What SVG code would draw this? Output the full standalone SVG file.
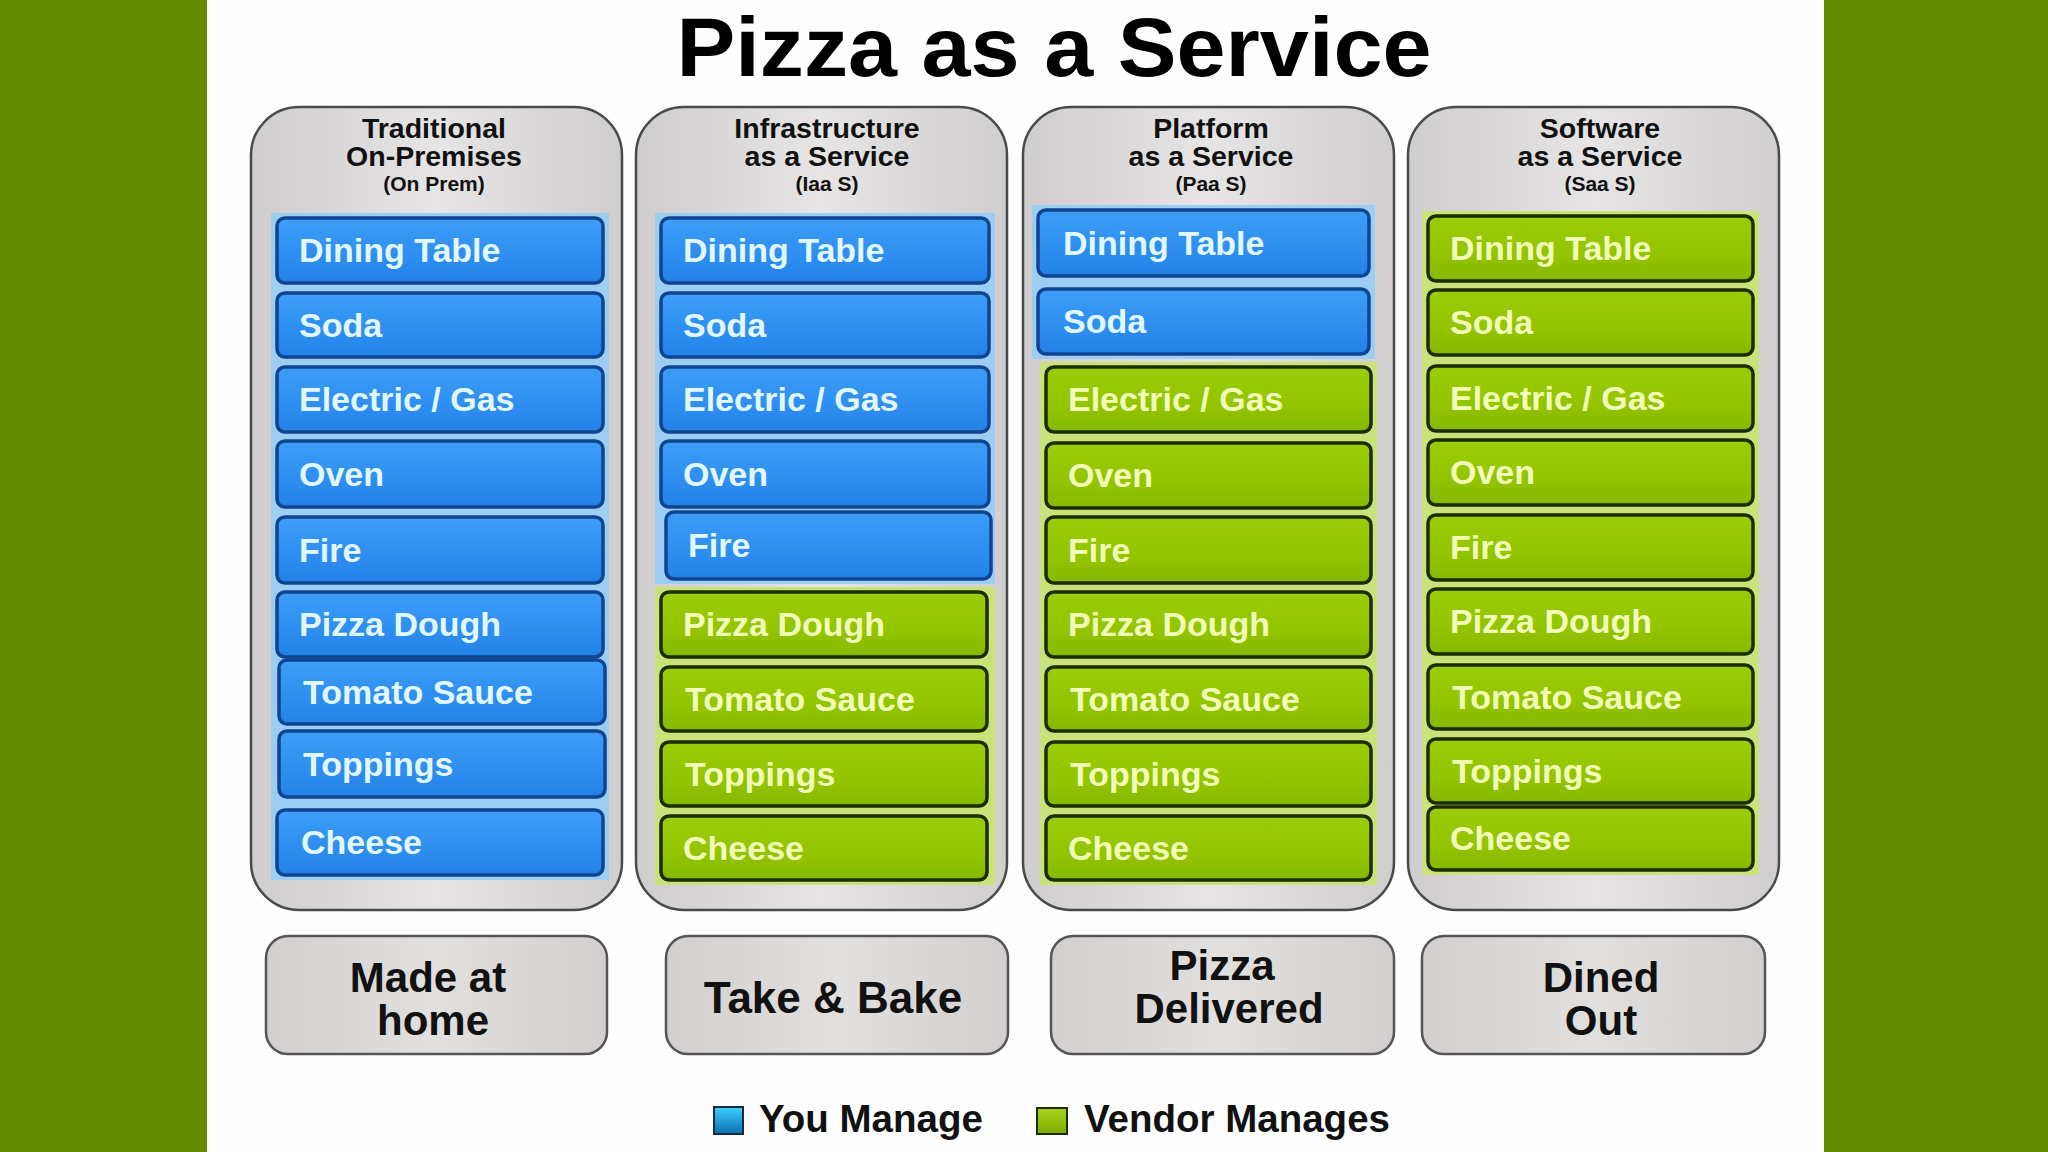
<svg xmlns="http://www.w3.org/2000/svg" width="2048" height="1152" viewBox="0 0 2048 1152">
<defs>
<linearGradient id="colFill" x1="0" y1="0" x2="1" y2="0">
<stop offset="0" stop-color="#cfcdcd"/><stop offset="0.5" stop-color="#e6e4e4"/><stop offset="1" stop-color="#d0cece"/>
</linearGradient>
<linearGradient id="labFill" x1="0" y1="0" x2="1" y2="0">
<stop offset="0" stop-color="#d3cfcf"/><stop offset="0.5" stop-color="#e2dfdf"/><stop offset="1" stop-color="#d3cfcf"/>
</linearGradient>
<linearGradient id="blueFill" x1="0" y1="0" x2="0" y2="1">
<stop offset="0" stop-color="#3d9df6"/><stop offset="0.6" stop-color="#2e8ef0"/><stop offset="1" stop-color="#2381e6"/>
</linearGradient>
<linearGradient id="greenFill" x1="0" y1="0" x2="0" y2="1">
<stop offset="0" stop-color="#9ccc08"/><stop offset="0.6" stop-color="#92c400"/><stop offset="1" stop-color="#86b800"/>
</linearGradient>
<linearGradient id="legBlue" x1="0" y1="0" x2="0" y2="1">
<stop offset="0" stop-color="#3fd0ff"/><stop offset="1" stop-color="#0a6fb0"/>
</linearGradient>
<linearGradient id="legGreen" x1="0" y1="0" x2="0" y2="1">
<stop offset="0" stop-color="#a6d21a"/><stop offset="1" stop-color="#7fae00"/>
</linearGradient>
</defs>
<style>
.side{fill:#658c00}
.col{fill:url(#colFill);stroke:#4a4a4a;stroke-width:2.5}
.hd{font-family:"Liberation Sans",Arial,sans-serif;font-weight:bold;font-size:28.5px;fill:#111;text-anchor:middle}
.hd3{font-family:"Liberation Sans",Arial,sans-serif;font-weight:bold;font-size:21px;fill:#111;text-anchor:middle}
.halo-b{fill:#9ccdf3}
.halo-g{fill:#c9e37a}
.bx-b{fill:url(#blueFill);stroke:#0f4490;stroke-width:3.5}
.bx-g{fill:url(#greenFill);stroke:#1b2d00;stroke-width:3.5}
.tx{font-family:"Liberation Sans",Arial,sans-serif;font-weight:bold;font-size:34px}
.tx-b{fill:#e2f8ff}
.tx-g{fill:#f2ffba}
.lab{fill:url(#labFill);stroke:#555;stroke-width:2.5}
.lt{font-family:"Liberation Sans",Arial,sans-serif;font-weight:bold;font-size:42px;fill:#111;text-anchor:middle}
.lt1{font-family:"Liberation Sans",Arial,sans-serif;font-weight:bold;font-size:44px;fill:#111;text-anchor:middle}
.leg{font-family:"Liberation Sans",Arial,sans-serif;font-weight:bold;font-size:38.5px;fill:#111}
</style>
<rect x="0" y="0" width="2048" height="1152" fill="#fefefe"/>
<rect class="side" x="0" y="0" width="207" height="1152"/>
<rect class="side" x="1824" y="0" width="224" height="1152"/>

<text id="title" x="1054" y="76" font-family="'Liberation Sans',Arial,sans-serif" font-weight="bold" font-size="84" fill="#000" text-anchor="middle" textLength="755" lengthAdjust="spacingAndGlyphs">Pizza as a Service</text>

<!-- Column 1 -->
<g id="col-onprem">
<rect class="col" x="251" y="107" width="371" height="803" rx="48"/>
<text class="hd" x="434" y="138">Traditional</text>
<text class="hd" x="434" y="166">On-Premises</text>
<text class="hd3" x="434" y="191">(On Prem)</text>
<g id="c1-rows">
<rect class="halo-b" x="271" y="213" width="338" height="667"/>
<rect class="bx-b" x="277" y="218" width="326" height="65" rx="8"/><text class="tx tx-b" x="299" y="262">Dining Table</text>
<rect class="bx-b" x="277" y="293" width="326" height="64" rx="8"/><text class="tx tx-b" x="299" y="337">Soda</text>
<rect class="bx-b" x="277" y="367" width="326" height="65" rx="8"/><text class="tx tx-b" x="299" y="411">Electric / Gas</text>
<rect class="bx-b" x="277" y="441" width="326" height="66" rx="8"/><text class="tx tx-b" x="299" y="486">Oven</text>
<rect class="bx-b" x="277" y="517" width="326" height="66" rx="8"/><text class="tx tx-b" x="299" y="562">Fire</text>
<rect class="bx-b" x="277" y="592" width="326" height="65" rx="8"/><text class="tx tx-b" x="299" y="636">Pizza Dough</text>
<rect class="bx-b" x="279" y="660" width="326" height="64" rx="8"/><text class="tx tx-b" x="303" y="704">Tomato Sauce</text>
<rect class="bx-b" x="279" y="731" width="326" height="66" rx="8"/><text class="tx tx-b" x="303" y="776">Toppings</text>
<rect class="bx-b" x="277" y="810" width="326" height="65" rx="8"/><text class="tx tx-b" x="301" y="854">Cheese</text>
</g>
</g>

<!-- Column 2 -->
<g id="col-iaas">
<rect class="col" x="636" y="107" width="371" height="803" rx="48"/>
<text class="hd" x="827" y="138">Infrastructure</text>
<text class="hd" x="827" y="166">as a Service</text>
<text class="hd3" x="827" y="191">(Iaa S)</text>
<g id="c2-rows">
<rect class="halo-b" x="655" y="213" width="340" height="371"/>
<rect class="halo-g" x="655" y="587" width="340" height="298"/>
<rect class="bx-b" x="661" y="218" width="328" height="65" rx="8"/><text class="tx tx-b" x="683" y="262">Dining Table</text>
<rect class="bx-b" x="661" y="293" width="328" height="64" rx="8"/><text class="tx tx-b" x="683" y="337">Soda</text>
<rect class="bx-b" x="661" y="367" width="328" height="65" rx="8"/><text class="tx tx-b" x="683" y="411">Electric / Gas</text>
<rect class="bx-b" x="661" y="441" width="328" height="66" rx="8"/><text class="tx tx-b" x="683" y="486">Oven</text>
<rect class="bx-b" x="666" y="512" width="325" height="67" rx="8"/><text class="tx tx-b" x="688" y="557">Fire</text>
<rect class="bx-g" x="661" y="592" width="326" height="65" rx="8"/><text class="tx tx-g" x="683" y="636">Pizza Dough</text>
<rect class="bx-g" x="661" y="667" width="326" height="64" rx="8"/><text class="tx tx-g" x="685" y="711">Tomato Sauce</text>
<rect class="bx-g" x="661" y="742" width="326" height="64" rx="8"/><text class="tx tx-g" x="685" y="786">Toppings</text>
<rect class="bx-g" x="661" y="816" width="326" height="64" rx="8"/><text class="tx tx-g" x="683" y="860">Cheese</text>
</g>
</g>

<!-- Column 3 -->
<g id="col-paas">
<rect class="col" x="1023" y="107" width="371" height="803" rx="48"/>
<text class="hd" x="1211" y="138">Platform</text>
<text class="hd" x="1211" y="166">as a Service</text>
<text class="hd3" x="1211" y="191">(Paa S)</text>
<g id="c3-rows">
<rect class="halo-b" x="1032" y="205" width="343" height="154"/>
<rect class="halo-g" x="1040" y="362" width="337" height="523"/>
<rect class="bx-b" x="1038" y="210" width="331" height="66" rx="8"/><text class="tx tx-b" x="1063" y="255">Dining Table</text>
<rect class="bx-b" x="1038" y="289" width="331" height="65" rx="8"/><text class="tx tx-b" x="1063" y="333">Soda</text>
<rect class="bx-g" x="1046" y="367" width="325" height="65" rx="8"/><text class="tx tx-g" x="1068" y="411">Electric / Gas</text>
<rect class="bx-g" x="1046" y="443" width="325" height="65" rx="8"/><text class="tx tx-g" x="1068" y="487">Oven</text>
<rect class="bx-g" x="1046" y="517" width="325" height="66" rx="8"/><text class="tx tx-g" x="1068" y="562">Fire</text>
<rect class="bx-g" x="1046" y="592" width="325" height="65" rx="8"/><text class="tx tx-g" x="1068" y="636">Pizza Dough</text>
<rect class="bx-g" x="1046" y="667" width="325" height="64" rx="8"/><text class="tx tx-g" x="1070" y="711">Tomato Sauce</text>
<rect class="bx-g" x="1046" y="742" width="325" height="64" rx="8"/><text class="tx tx-g" x="1070" y="786">Toppings</text>
<rect class="bx-g" x="1046" y="816" width="325" height="64" rx="8"/><text class="tx tx-g" x="1068" y="860">Cheese</text>
</g>
</g>

<!-- Column 4 -->
<g id="col-saas">
<rect class="col" x="1408" y="107" width="371" height="803" rx="48"/>
<text class="hd" x="1600" y="138">Software</text>
<text class="hd" x="1600" y="166">as a Service</text>
<text class="hd3" x="1600" y="191">(Saa S)</text>
<g id="c4-rows">
<rect class="halo-g" x="1422" y="211" width="337" height="664"/>
<rect class="bx-g" x="1428" y="216" width="325" height="65" rx="8"/><text class="tx tx-g" x="1450" y="260">Dining Table</text>
<rect class="bx-g" x="1428" y="290" width="325" height="65" rx="8"/><text class="tx tx-g" x="1450" y="334">Soda</text>
<rect class="bx-g" x="1428" y="366" width="325" height="65" rx="8"/><text class="tx tx-g" x="1450" y="410">Electric / Gas</text>
<rect class="bx-g" x="1428" y="440" width="325" height="65" rx="8"/><text class="tx tx-g" x="1450" y="484">Oven</text>
<rect class="bx-g" x="1428" y="515" width="325" height="65" rx="8"/><text class="tx tx-g" x="1450" y="559">Fire</text>
<rect class="bx-g" x="1428" y="589" width="325" height="65" rx="8"/><text class="tx tx-g" x="1450" y="633">Pizza Dough</text>
<rect class="bx-g" x="1428" y="665" width="325" height="64" rx="8"/><text class="tx tx-g" x="1452" y="709">Tomato Sauce</text>
<rect class="bx-g" x="1428" y="739" width="325" height="64" rx="8"/><text class="tx tx-g" x="1452" y="783">Toppings</text>
<rect class="bx-g" x="1428" y="807" width="325" height="63" rx="8"/><text class="tx tx-g" x="1450" y="850">Cheese</text>
</g>
</g>

<!-- Bottom labels -->
<g id="lab-home">
<rect class="lab" x="266" y="936" width="341" height="118" rx="22"/>
<text class="lt" x="428" y="992">Made at</text>
<text class="lt" x="433" y="1035">home</text>
</g>
<g id="lab-takebake">
<rect class="lab" x="666" y="936" width="342" height="118" rx="22"/>
<text class="lt1" x="833" y="1013">Take &amp; Bake</text>
</g>
<g id="lab-delivered">
<rect class="lab" x="1051" y="936" width="343" height="118" rx="22"/>
<text class="lt" x="1222" y="980">Pizza</text>
<text class="lt" x="1229" y="1023">Delivered</text>
</g>
<g id="lab-dined">
<rect class="lab" x="1422" y="936" width="343" height="118" rx="22"/>
<text class="lt" x="1601" y="992">Dined</text>
<text class="lt" x="1601" y="1035">Out</text>
</g>

<!-- Legend -->
<g id="legend">
<rect x="714" y="1107" width="29" height="27" fill="url(#legBlue)" stroke="#1a2a3a" stroke-width="2"/>
<text class="leg" x="759" y="1132">You Manage</text>
<rect x="1037" y="1108" width="30" height="26" fill="url(#legGreen)" stroke="#1b2d00" stroke-width="2"/>
<text class="leg" x="1084" y="1132">Vendor Manages</text>
</g>
<g id="connectors"/>
</svg>
